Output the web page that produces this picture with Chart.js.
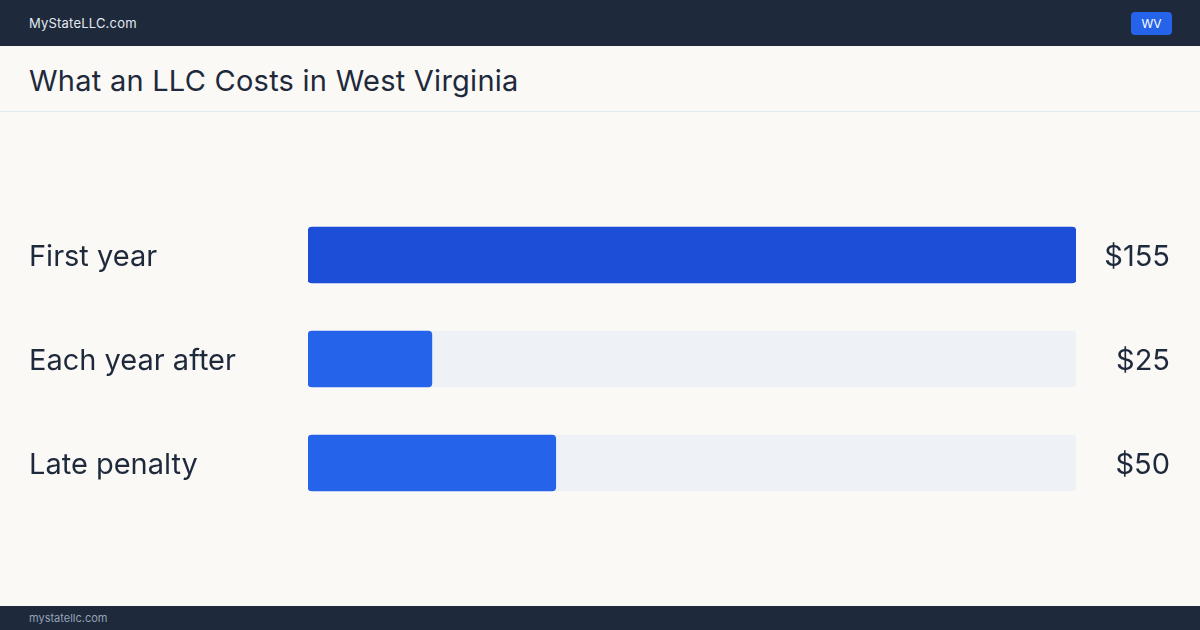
<!DOCTYPE html>
<html>
<head>
<meta charset="utf-8">
<script src="https://cdn.jsdelivr.net/npm/chart.js@4"></script>
<style>
  html, body { margin: 0; padding: 0; }
  body { width: 1200px; height: 630px; background: #faf9f6; font-family: Inter, "Noto Sans", sans-serif; position: relative; overflow: hidden; }
  .top { position: absolute; left: 0; top: 0; width: 1200px; height: 46px; background: #1e293b; }
  .brand { position: absolute; left: 29px; top: 15px; font-size: 13px; color: #e2e8f0; letter-spacing: 0.2px; }
  .badge { position: absolute; left: 1131px; top: 12px; width: 41px; height: 23px; background: #2563eb; border-radius: 4px; color: #fff; font-size: 12px; line-height: 23px; text-align: center; }
  .title { position: absolute; left: 0; top: 46px; width: 1200px; height: 65px; border-bottom: 1px solid #e2e8f0; }
  .title h1 { margin: 0; position: absolute; left: 29px; top: 17px; font-size: 29px; font-weight: 400; color: #1e293b; letter-spacing: 0.25px; }
  .wrap { position: absolute; left: 0; top: 112px; width: 1200px; height: 494px; }
  .foot { position: absolute; left: 0; top: 606px; width: 1200px; height: 24px; background: #1e293b; }
  .foot span { position: absolute; left: 29px; top: 5px; font-size: 11px; color: #94a3b8; }
</style>
</head>
<body>
<div class="top"><div class="brand">MyStateLLC.com</div><div class="badge">WV</div></div>
<div class="title"><h1>What an LLC Costs in West Virginia</h1></div>
<div class="wrap"><canvas id="costs"></canvas></div>
<div class="foot"><span>mystatellc.com</span></div>
<script>
// data
const costLabels = ['First year', 'Each year after', 'Late penalty'];
const costValues = [155, 25, 50];
const maxCost = 155;
const trackValues = [155, 155, 155];
const barColors = ['#1d4ed8', '#2563eb', '#2563eb'];

const ctx = document.getElementById('costs');
const costChart = new Chart(ctx, {
    type: 'bar',
    data: {
        labels: costLabels,
        datasets: [{
            label: 'cost',
            data: costValues,
            backgroundColor: barColors,
            borderRadius: 4,
            borderSkipped: false,
            barThickness: 56,
            grouped: false,
            order: 1,
            yAxisID: 'y'
        }, {
            label: 'track',
            data: trackValues,
            backgroundColor: '#eef2f7',
            borderRadius: 4,
            borderSkipped: false,
            barThickness: 56,
            grouped: false,
            order: 2,
            yAxisID: 'y'
        }]
    },
    options: {
        indexAxis: 'y',
        responsive: true,
        maintainAspectRatio: false,
        animation: false,
        layout: { padding: { left: 29, right: 30, top: 91, bottom: 91 } },
        plugins: { legend: { display: false }, tooltip: { enabled: false } },
        scales: {
            x: { min: 0, max: maxCost, display: false },
            y: {
                position: 'left',
                grid: { display: false },
                border: { display: false },
                afterFit: (s) => { s.width = 279; },
                ticks: { crossAlign: 'far', labelOffset: 2, color: '#1e293b', font: { family: 'Inter', size: 29 } }
            },
            y2: {
                position: 'right',
                type: 'category',
                labels: costLabels,
                grid: { display: false },
                border: { display: false },
                afterFit: (s) => { s.width = 94; },
                ticks: {
                    crossAlign: 'far',
                    labelOffset: 2,
                    color: '#1e293b',
                    font: { family: 'Inter', size: 29 },
                    callback: (v, i) => '$' + costValues[i]
                }
            }
        }
    }
});
</script>
</body>
</html>
